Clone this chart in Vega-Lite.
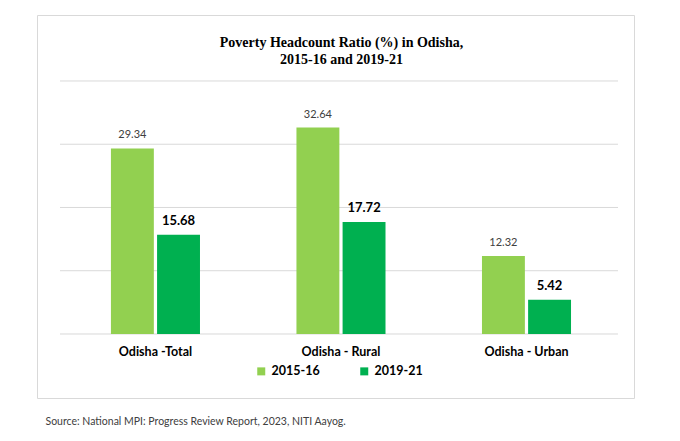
{
  "$schema": "https://vega.github.io/schema/vega-lite/v6.json",
  "width": 597,
  "height": 383,
  "autosize": {"type": "none"},
  "padding": {"left": 37, "top": 15, "right": 46, "bottom": 43},
  "background": "white",
  "view": {"stroke": "#d9d9d9", "strokeWidth": 1},
  "title": {
    "text": ["Poverty Headcount Ratio (%) in Odisha,", "2015-16 and 2019-21"],
    "font": "Liberation Serif",
    "fontSize": 14,
    "fontWeight": "bold",
    "color": "black",
    "anchor": "middle",
    "baseline": "top",
    "offset": -52,
    "lineHeight": 17,
    "dx": 6
  },
  "datasets": {
    "bars": [
      {"cat": "Odisha -Total", "year": "2015-16", "value": 29.34},
      {"cat": "Odisha -Total", "year": "2019-21", "value": 15.68},
      {"cat": "Odisha - Rural", "year": "2015-16", "value": 32.64},
      {"cat": "Odisha - Rural", "year": "2019-21", "value": 17.72},
      {"cat": "Odisha - Urban", "year": "2015-16", "value": 12.32},
      {"cat": "Odisha - Urban", "year": "2019-21", "value": 5.42}
    ],
    "grid": [{"g": 0}, {"g": 10}, {"g": 20}, {"g": 30}, {"g": 40}]
  },
  "layer": [
    {
      "data": {"name": "grid"},
      "mark": {"type": "rule", "color": "#d9d9d9", "strokeWidth": 1},
      "encoding": {
        "y": {"field": "g", "type": "quantitative", "scale": {"domain": [-10.12, 50.43], "nice": false, "zero": false}, "axis": null},
        "x": {"datum": 0, "type": "quantitative", "scale": {"domain": [-0.0412, 1.0287], "nice": false, "zero": false}, "axis": null},
        "x2": {"datum": 1}
      }
    },
    {
      "data": {"name": "bars"},
      "layer": [
        {
          "mark": {"type": "bar"},
          "encoding": {
            "y": {"field": "value", "type": "quantitative", "scale": {"domain": [-10.12, 50.43], "nice": false, "zero": false}, "axis": null},
            "y2": {"datum": 0},
            "color": {
              "field": "year", "type": "nominal",
              "scale": {"domain": ["2015-16", "2019-21"], "range": ["#92D050", "#00B050"]},
              "legend": {
                "orient": "none", "legendX": 218, "legendY": 350, "direction": "horizontal",
                "title": null, "symbolType": "square", "symbolSize": 64, "symbolStrokeWidth": 0,
                "labelFont": "Lato", "labelFontSize": 12.5, "labelFontWeight": "bold", "labelColor": "black",
                "labelOffset": 4, "columnPadding": 38
              }
            }
          }
        },
        {
          "transform": [{"filter": "datum.year === '2015-16'"}],
          "mark": {"type": "text", "baseline": "bottom", "dy": -8, "font": "Lato", "fontSize": 11, "color": "#404040"},
          "encoding": {
            "y": {"field": "value", "type": "quantitative"},
            "text": {"field": "value", "type": "quantitative", "format": ".2f"}
          }
        },
        {
          "transform": [{"filter": "datum.year === '2019-21'"}],
          "mark": {"type": "text", "baseline": "bottom", "dy": -7, "font": "Lato", "fontSize": 13, "fontWeight": "bold", "color": "black"},
          "encoding": {
            "y": {"field": "value", "type": "quantitative"},
            "text": {"field": "value", "type": "quantitative", "format": ".2f"}
          }
        }
      ],
      "encoding": {
        "x": {
          "field": "cat", "type": "nominal", "sort": null,
          "scale": {"paddingInner": 0.52, "paddingOuter": 0.369, "align": 0.54},
          "axis": {
            "orient": "bottom", "offset": -64, "domain": false, "ticks": false, "grid": false,
            "labelPadding": 11, "labelFont": "Lato", "labelFontSize": 12.5, "labelFontWeight": "bold",
            "labelColor": "black", "labelAngle": 0,
            "title": "Source: National MPI: Progress Review Report, 2023, NITI Aayog.",
            "titleFont": "Lato", "titleFontSize": 10.5, "titleFontWeight": "normal", "titleColor": "#404040",
            "titleAnchor": "start", "titleAlign": "left", "titleX": 8, "titleY": 90, "titleBaseline": "alphabetic"
          }
        },
        "xOffset": {"field": "year", "type": "nominal", "scale": {"paddingInner": 0.07}}
      }
    }
  ],
  "resolve": {"scale": {"x": "independent"}}
}
